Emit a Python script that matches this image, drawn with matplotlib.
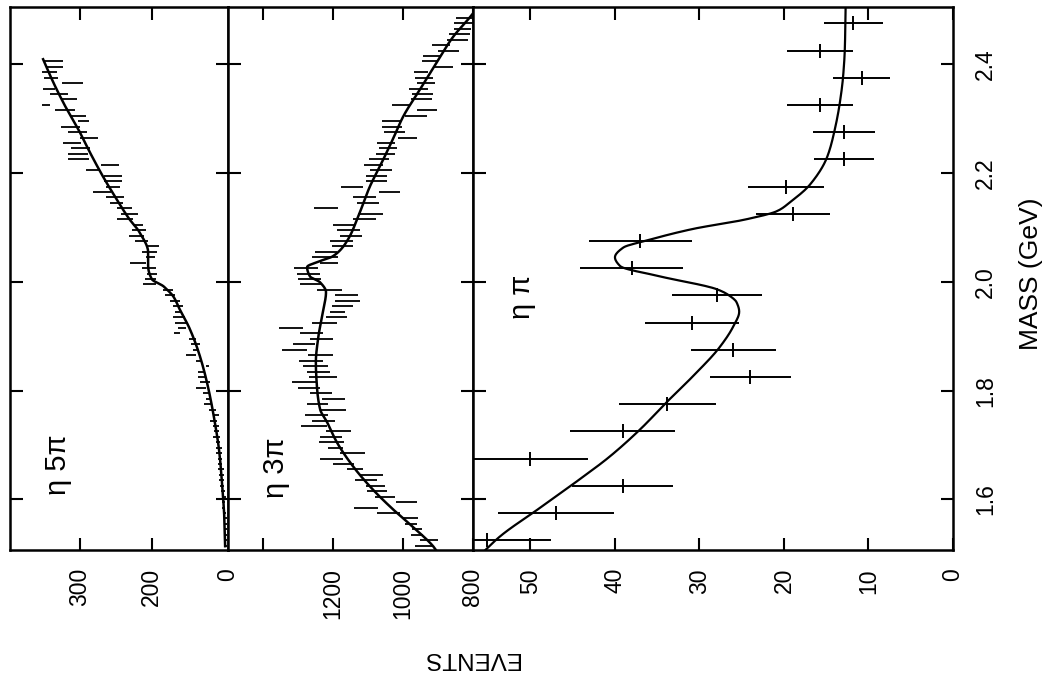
"""
Mass spectra of eta 5pi, eta 3pi and eta pi with fitted curves.
Page is drawn turned on its side: mass runs up the page, events run leftwards.
"""

import numpy as np
import matplotlib
matplotlib.use("Agg")
import matplotlib.pyplot as plt

plt.rcParams["font.family"] = ["Liberation Sans", "DejaVu Sans"]

# ── data ────────────────────────────────────────────────────────────────────
# eta 5pi : 10 MeV bins, listed from 2.405 GeV downwards
eta5pi_top = 2.405
eta5pi_events = [337, 335, 342, 340, 310, 343, 329, 315, 347, 321, 303, 295,
                 313, 303, 287, 311, 299, 302, 302, 258, 282, 254, 254, 254,
                 269, 251, 249, 238, 231, 237, 219, 218, 221, 214, 199, 203,
                 202, 219, 204, 200, 202, 203, 177, 175,
                 168, 163, 163, 162, 160, 158, 165, 143, 139, 138, 145, 134,
                 122, 131, 130, 126, 131, 124, 121, 122, 115, 111, 114, 111,
                 110, 110, 108, 107, 107, 105, 105, 104, 103, 103, 102, 101,
                 100, 100, 100, 99, 98, 98, 98, 98, 97, 97]
eta5pi_err = [14, 12, 10, 10, 15, 8, 13, 11, 5, 14, 11, 8, 13, 13, 13, 13, 13,
              14, 15, 12, 10, 12, 13, 10, 13, 12, 9, 10, 12, 11, 7, 10, 10, 9,
              9, 10, 6, 11, 10, 7, 8, 9, 7, 7,
              7, 7, 5, 8, 8, 6, 4, 5, 6, 4, 7, 4, 2, 5, 6, 7, 7, 5, 4, 5, 5,
              4, 5, 4, 3, 5, 3, 4, 4, 3, 3, 4, 3, 3, 3, 3, 3, 2, 2, 2, 2, 2,
              2, 2, 1, 1]
eta5pi_fit_mass = [1.514, 1.563, 1.624, 1.686, 1.747, 1.808, 1.863, 1.913,
                   1.949, 1.973, 1.986, 1.992, 2.005, 2.029, 2.054, 2.091,
                   2.115, 2.152, 2.194, 2.238, 2.275, 2.317, 2.367, 2.409]
eta5pi_fit = [98, 99, 102, 106, 113, 122, 133, 147, 161, 170, 179, 184, 200,
              205, 205, 217, 231, 249, 268, 286, 300, 318, 337, 351]

# eta 3pi : 10 MeV bins, listed from 2.485 GeV downwards
eta3pi_top = 2.485
eta3pi_events = [820, 825, 830, 838, 845, 892, 870, 919, 923, 885, 948, 939,
                 935, 955, 943, 947, 1006, 932, 963, 1031, 1031, 1024, 986,
                 1049, 1044, 1050, 1068, 1084, 1063, 1077, 1077, 1145, 1039,
                 1110, 1100, 1220, 1092, 1109, 1170, 1156, 1149, 1175, 1173,
                 1220, 1223, 1211, 1277, 1269, 1266, 1263, 1211, 1161,
                 1158, 1173, 1187, 1190, 1225, 1319, 1261, 1233, 1282, 1310,
                 1235, 1262, 1249, 1242, 1230, 1282, 1269, 1235, 1199, 1243,
                 1200, 1247, 1228, 1255, 1185, 1206, 1204, 1192, 1144, 1204,
                 1171, 1137, 1090, 1106, 1079, 1075, 1051, 990, 1105, 1042,
                 978, 978, 961, 960, 925, 940, 890]
eta3pi_err = [30, 28, 25, 30, 30, 26, 29, 25, 24, 29, 20, 26, 26, 27, 30, 29,
              26, 29, 31, 28, 28, 30, 27, 26, 26, 27, 29, 28, 31, 30, 30, 32,
              30, 32, 32, 33, 36, 33, 29, 33, 31, 33, 31, 31, 38, 26, 35, 33,
              33, 31, 36, 33,
              36, 31, 21, 29, 36, 34, 33, 34, 31, 37, 36, 34, 36, 33, 40, 36,
              32, 31, 33, 30, 37, 33, 33, 37, 35, 31, 36, 21, 36, 33, 30, 24,
              33, 31, 27, 29, 29, 29, 34, 33, 21, 17, 14, 18, 26, 27, 24]
eta3pi_fit_mass = [1.500, 1.514, 1.549, 1.582, 1.618, 1.661, 1.705, 1.742,
                   1.766, 1.808, 1.852, 1.894, 1.944, 1.981, 1.999, 2.010,
                   2.027, 2.038, 2.047, 2.078, 2.115, 2.176, 2.212, 2.262,
                   2.303, 2.354, 2.404, 2.450, 2.486, 2.510]
eta3pi_fit = [898, 914, 971, 1029, 1086, 1143, 1189, 1217, 1237, 1246, 1249,
              1243, 1229, 1220, 1237, 1266, 1274, 1237, 1200, 1157, 1131,
              1094, 1066, 1029, 1000, 951, 903, 857, 809, 780]

# eta pi : 50 MeV bins
etapi_mass = [1.525, 1.575, 1.625, 1.675, 1.725, 1.775, 1.825, 1.875, 1.925,
              1.975, 2.025, 2.075, 2.125, 2.175, 2.225, 2.275, 2.325, 2.375,
              2.425, 2.475]
etapi_events = [55.1, 47.0, 39.1, 50.1, 39.1, 33.8, 24.0, 26.0, 30.9, 27.9,
                38.0, 37.0, 18.9, 19.8, 12.9, 12.9, 15.7, 10.8, 15.7, 11.8]
etapi_err = [7.5, 6.9, 6.0, 6.9, 6.2, 5.7, 4.8, 5.0, 5.6, 5.3, 6.1, 6.1, 4.4,
             4.5, 3.6, 3.7, 3.9, 3.4, 3.9, 3.5]
etapi_fit_mass = [1.500, 1.532, 1.582, 1.631, 1.679, 1.729, 1.780, 1.826,
                  1.880, 1.918, 1.945, 1.962, 1.976, 1.986, 2.010, 2.029,
                  2.045, 2.063, 2.076, 2.097, 2.115, 2.130, 2.146, 2.179,
                  2.229, 2.279, 2.328, 2.378, 2.428, 2.510]
etapi_fit = [55.8, 53.6, 49.1, 44.7, 40.6, 37.0, 33.8, 30.8, 27.6, 26.0, 25.3,
             25.6, 26.6, 27.9, 34.7, 39.4, 40.0, 39.0, 36.2, 30.8, 24.4, 20.8,
             19.3, 16.9, 14.9, 14.0, 13.4, 13.0, 12.8, 12.7]

mass_ticks = [1.6, 1.8, 2.0, 2.2, 2.4]
mass_labels = ["1.6", "1.8", "2.0", "2.2", "2.4"]
eta5pi_ticks, eta5pi_ticklabels = [300, 200], ["300", "200"]
eta3pi_ticks, eta3pi_ticklabels = [1400, 1200, 1000, 800], ["", "1200", "1000", "800"]
etapi_ticks, etapi_ticklabels = [50, 40, 30, 20, 10, 0], ["50", "40", "30", "20", "10", "0"]

eta5pi_mass = np.round(eta5pi_top - 0.01 * np.arange(len(eta5pi_events)), 3)
eta3pi_mass = np.round(eta3pi_top - 0.01 * np.arange(len(eta3pi_events)), 3)


def smooth_line(x, y, n=600):
    """Monotone cubic (Fritsch-Carlson) through the read fit points, for drawing only."""
    x, y = np.asarray(x, float), np.asarray(y, float)
    h, d = np.diff(x), np.diff(y) / np.diff(x)
    m = np.zeros_like(y)
    m[0], m[-1] = d[0], d[-1]
    for k in range(1, len(x) - 1):
        if d[k - 1] * d[k] > 0:
            w1, w2 = 2 * h[k] + h[k - 1], h[k] + 2 * h[k - 1]
            m[k] = (w1 + w2) / (w1 / d[k - 1] + w2 / d[k])
    xs = np.linspace(x[0], x[-1], n)
    i = np.clip(np.searchsorted(x, xs) - 1, 0, len(h) - 1)
    t = (xs - x[i]) / h[i]
    ys = ((2 * t**3 - 3 * t**2 + 1) * y[i] + (t**3 - 2 * t**2 + t) * h[i] * m[i]
          + (-2 * t**3 + 3 * t**2) * y[i + 1] + (t**3 - t**2) * h[i] * m[i + 1])
    return xs, ys


# ── layout (pixels of the 1052 x 680 page) ──────────────────────────────────
W, H = 1052, 680
TOP, BOTTOM = 7, 550
edges = [10, 228, 473, 953]

fig = plt.figure(figsize=(W / 100, H / 100), dpi=100)


def panel(x0, x1):
    return fig.add_axes([x0 / W, 1 - BOTTOM / H, (x1 - x0) / W, (BOTTOM - TOP) / H])


ax1 = panel(edges[0], edges[1])
ax2 = panel(edges[1], edges[2])
ax3 = panel(edges[2], edges[3])

for ax in (ax1, ax2, ax3):
    ax.set_ylim(1.507, 2.505)
    ax.set_yticks(mass_ticks)
    ax.tick_params(direction="in", length=9, width=1.5, top=True, bottom=True,
                   left=True, right=True, labelleft=False, labelsize=16.5)
    ax.tick_params(axis="x", pad=13)
    for s in ax.spines.values():
        s.set_linewidth(1.8)

ax1.set_xlim(397, 94)
ax2.set_xlim(1500, 800)
ax3.set_xlim(56.8, 0)

# eta 5pi
ax1.errorbar(eta5pi_events, eta5pi_mass, xerr=eta5pi_err, fmt="none",
             ecolor="k", elinewidth=1.3)
mm, ee = smooth_line(eta5pi_fit_mass, eta5pi_fit)
ax1.plot(ee, mm, color="k", lw=1.8)
ax1.set_xticks(eta5pi_ticks)
ax1.set_xticklabels(eta5pi_ticklabels, rotation=90, va="top", ha="center")
ax1.text(1.0, -18 / (BOTTOM - TOP), "0", transform=ax1.transAxes, rotation=90,
         ha="center", va="top", fontsize=16.5)

# eta 3pi
ax2.errorbar(eta3pi_events, eta3pi_mass, xerr=eta3pi_err, fmt="none",
             ecolor="k", elinewidth=1.3)
mm, ee = smooth_line(eta3pi_fit_mass, eta3pi_fit)
ax2.plot(ee, mm, color="k", lw=1.8)
ax2.set_xticks(eta3pi_ticks)
ax2.set_xticklabels(eta3pi_ticklabels, rotation=90, va="top", ha="center")

# eta pi
ax3.errorbar(etapi_events, etapi_mass, xerr=etapi_err, fmt="|", color="k",
             markersize=10, mew=1.4, elinewidth=1.4)
mm, ee = smooth_line(etapi_fit_mass, etapi_fit)
ax3.plot(ee, mm, color="k", lw=1.6)
ax3.set_xticks(etapi_ticks)
ax3.set_xticklabels(etapi_ticklabels, rotation=90, va="top", ha="center")
ax3.tick_params(axis="y", labelright=True, pad=15)
ax3.set_yticklabels(mass_labels, rotation=90, va="center")

# panel names and axis titles (turned with the page)
fig.text(58 / W, 1 - 465 / H, "η 5π", rotation=90, ha="center", va="center", fontsize=21)
fig.text(276 / W, 1 - 468 / H, "η 3π", rotation=90, ha="center", va="center", fontsize=21)
fig.text(522 / W, 1 - 297 / H, "η π", rotation=90, ha="center", va="center", fontsize=21)
fig.text(1031 / W, 1 - 274 / H, "MASS (GeV)", rotation=90, ha="center", va="center", fontsize=19)
fig.text(471 / W, 1 - 658 / H, "EVENTS", rotation=180, ha="center", va="center", fontsize=17.5)

fig.savefig("out.png", dpi=100)
